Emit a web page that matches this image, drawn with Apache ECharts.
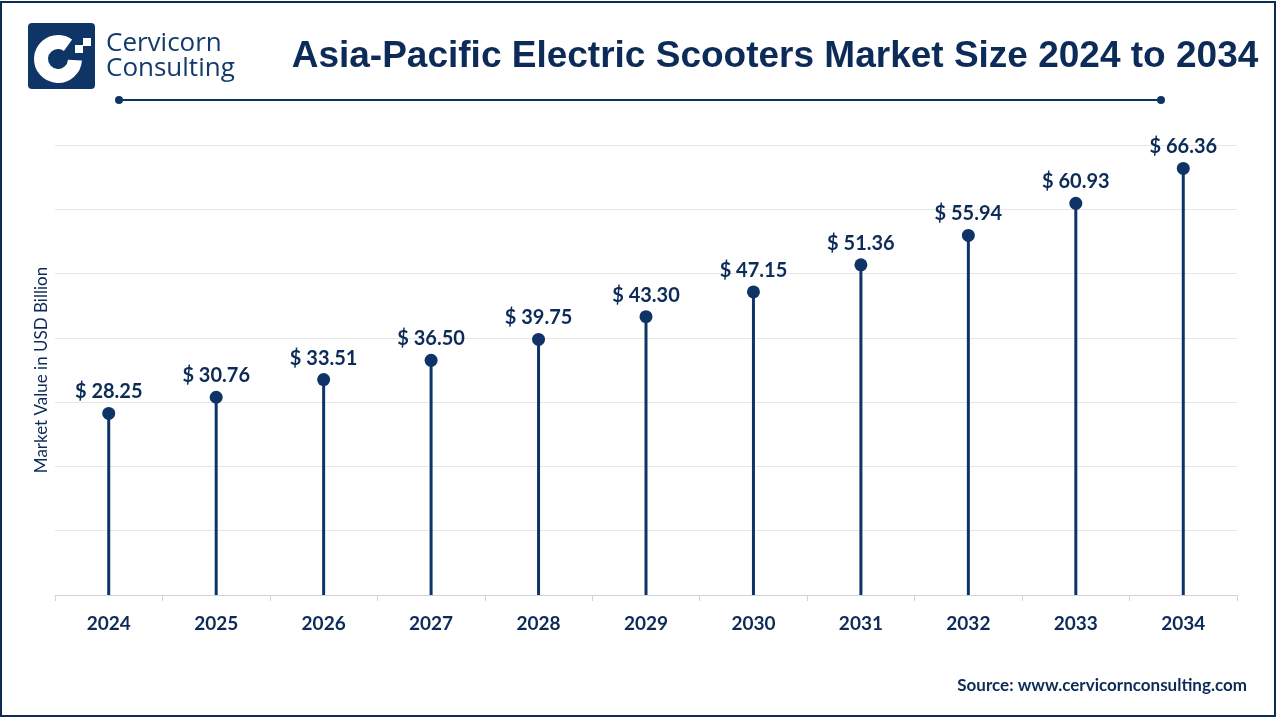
<!DOCTYPE html>
<html><head><meta charset="utf-8">
<script src="https://cdn.jsdelivr.net/npm/echarts@6/dist/echarts.min.js"></script>
<style>html,body{margin:0;padding:0;background:#fff}#c{width:1280px;height:720px}</style>
</head><body><div id="c"></div>
<script>
const years = ['2024','2025','2026','2027','2028','2029','2030','2031','2032','2033','2034'];
const values = [28.25,30.76,33.51,36.50,39.75,43.30,47.15,51.36,55.94,60.93,66.36];
const navy = '#0e3467';
const dark = '#0c2b58';
const font = 'Lato, "Open Sans", sans-serif';
const chart = echarts.init(document.getElementById('c'));
chart.setOption({
  animation:false,
  backgroundColor:'#fff',
  grid:{left:55,right:43,top:145,bottom:125},
  xAxis:{type:'category',data:years,
    axisLine:{lineStyle:{color:'#d3d3d3',width:1}},
    axisTick:{show:true,length:6,lineStyle:{color:'#d3d3d3'}},
    axisLabel:{color:dark,fontFamily:font,fontWeight:'bold',fontSize:19,margin:19}},
  yAxis:{type:'value',min:0,max:70,interval:10,
    name:'Market Value in USD Billion',nameLocation:'middle',nameGap:5,
    nameTextStyle:{color:dark,fontFamily:font,fontSize:17},
    axisLabel:{show:false},axisLine:{show:false},axisTick:{show:false},
    splitLine:{lineStyle:{color:'#e6e6e6',width:1}}},
  series:[
    {type:'bar',data:values,barWidth:3,itemStyle:{color:navy},silent:true},
    {type:'scatter',data:values,symbolSize:13,itemStyle:{color:navy,opacity:1},
     label:{show:true,position:'top',distance:5,color:dark,fontFamily:font,fontWeight:'bold',fontSize:20,
       formatter:p=>'$ '+p.value.toFixed(2)}}
  ],
  graphic:[
    {type:'rect',shape:{x:1,y:2,width:1274,height:714},style:{fill:'none',stroke:'#0d2c4f',lineWidth:2}},
    {type:'rect',shape:{x:28,y:23,width:67,height:66,r:4},style:{fill:'#0f3567'}},
    {type:'arc',shape:{cx:58,cy:59,r:17,startAngle:Math.PI*0.02,endAngle:Math.PI*1.7,clockwise:true},style:{stroke:'#fff',lineWidth:14,fill:'none'}},
    {type:'rect',shape:{x:75,y:45,width:8,height:8},style:{fill:'#fff'}},
    {type:'rect',shape:{x:83,y:38,width:8,height:8},style:{fill:'#fff'}},
    {type:'text',left:106,top:31,style:{text:'Cervicorn',fill:'#133a6c',font:'500 26px "Open Sans", sans-serif'}},
    {type:'text',left:106,top:56,style:{text:'Consulting',fill:'#133a6c',font:'500 26px "Open Sans", sans-serif'}},
    {type:'text',x:775,y:57,style:{text:'Asia-Pacific Electric Scooters Market Size 2024 to 2034',fill:dark,font:'bold 37px "Liberation Sans", Arial, sans-serif',align:'center',verticalAlign:'middle'}},
    {type:'line',shape:{x1:118,y1:100,x2:1162,y2:100},style:{stroke:navy,lineWidth:2}},
    {type:'circle',shape:{cx:119,cy:100,r:4},style:{fill:navy}},
    {type:'circle',shape:{cx:1161,cy:100,r:4},style:{fill:navy}},
    {type:'text',x:1247,y:686,style:{text:'Source: www.cervicornconsulting.com',fill:dark,font:'bold 17px Lato, "Open Sans", sans-serif',align:'right',verticalAlign:'middle'}}
  ]
});
</script></body></html>
